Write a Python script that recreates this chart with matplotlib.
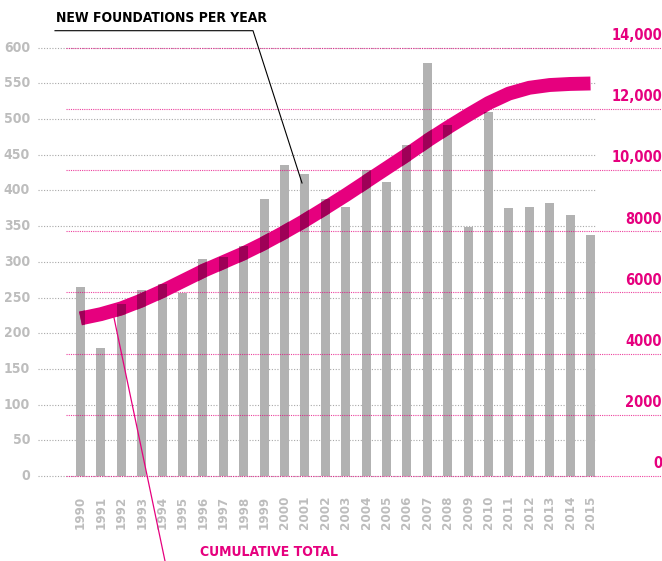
import numpy as np
import matplotlib
matplotlib.use("Agg")
import matplotlib.pyplot as plt

# data
years = list(range(1990, 2016))
new_per_year = [265, 180, 241, 260, 269, 257, 304, 307, 322, 388, 436, 423, 388,
                377, 429, 412, 464, 578, 492, 349, 510, 376, 377, 383, 365, 337]
cumulative = [5150, 5290, 5480, 5740, 6040, 6370, 6700, 6990, 7280, 7610, 7970,
              8350, 8760, 9180, 9620, 10060, 10500, 10960, 11390, 11800, 12190,
              12500, 12690, 12780, 12815, 12830]
left_ticks = list(range(0, 601, 50))
right_ticks = list(range(0, 14001, 2000))
right_labels = ["0", "2000", "4000", "6000", "8000", "10,000", "12,000", "14,000"]

MAGENTA = "#E6007E"
DARK = "#9E0057"
BAR = "#B2B2B2"
LABEL_GREY = "#BDBDBD"
FONT = dict(family="DejaVu Sans", fontweight="bold", fontstretch="condensed")

W, H = 662, 561
fig = plt.figure(figsize=(W / 100, H / 100), dpi=100)

# axes spans x 38..662 px, y 476..47.7 px
left_px, right_px = 38, 662
bot_px, top_px = 476, 47.7
ax = fig.add_axes([left_px / W, 1 - bot_px / H,
                   (right_px - left_px) / W, (bot_px - top_px) / H])
ax2 = ax.twinx()

px_per_year = 20.4
x0 = 1990 - (80.5 - left_px) / px_per_year
x1 = 2015 + (right_px - 590.5) / px_per_year
ax.set_xlim(x0, x1)
ax.set_ylim(0, 600)
ax2.set_ylim(0, 14000)

for a in (ax, ax2):
    for s in a.spines.values():
        s.set_visible(False)
    a.tick_params(length=0)
    a.set_yticks([])
ax.set_xticks([])

# grey dotted grid (left scale)
grey_end = 2015 + 5.5 / px_per_year
for v in left_ticks:
    ax.plot([x0, grey_end], [v, v], color="#A8A8A8", lw=0.8, ls=(0, (1, 1.5)),
            zorder=1, clip_on=False)
    ax.text(x0 - 8 / px_per_year, v, str(v), ha="right", va="center",
            color=LABEL_GREY, fontsize=10, **FONT)

# pink dotted grid (right scale)
pink_start = 1990 - 14.5 / px_per_year
for v, lab in zip(right_ticks, right_labels):
    ax2.plot([pink_start, x1], [v, v], color=MAGENTA, lw=0.8, ls=(0, (1, 1)),
             alpha=0.75, zorder=1, clip_on=False)
    ax2.text(x1, v + 150, lab, ha="right", va="bottom", color=MAGENTA,
             fontsize=10.5, **FONT)

bars = ax.bar(years, new_per_year, width=0.44, color=BAR, zorder=2)

ax2.plot(years, cumulative, color=MAGENTA, lw=10, solid_capstyle="butt",
         solid_joinstyle="round", zorder=3)
ax2.set_zorder(ax.get_zorder() + 1)
ax2.patch.set_visible(False)

# darker where the band crosses a bar
for b in bars:
    ln, = ax2.plot(years, cumulative, color=DARK, lw=10, solid_capstyle="butt",
                   solid_joinstyle="round", zorder=4)
    ln.set_clip_path(b)

# year labels
for y in years:
    ax.text(y, -28, str(y), rotation=90, ha="center", va="top",
            color=LABEL_GREY, fontsize=9.5, **FONT)

# annotations
fig.text(56 / W, 1 - 18 / H, "NEW FOUNDATIONS PER YEAR", ha="left", va="center",
         fontsize=10, color="black", **FONT)
fig.add_artist(plt.Line2D([55 / W, 253 / W, 302 / W],
                          [1 - 30.7 / H, 1 - 30.7 / H, 1 - 183 / H],
                          color="black", lw=0.8))

fig.text(200 / W, 1 - 551.5 / H, "CUMULATIVE TOTAL", ha="left", va="center",
         fontsize=10, color=MAGENTA, **FONT)
fig.add_artist(plt.Line2D([113 / W, 165 / W], [1 - 313 / H, 1 - 561 / H],
                          color=MAGENTA, lw=0.9))

fig.savefig("out.png", dpi=100)
